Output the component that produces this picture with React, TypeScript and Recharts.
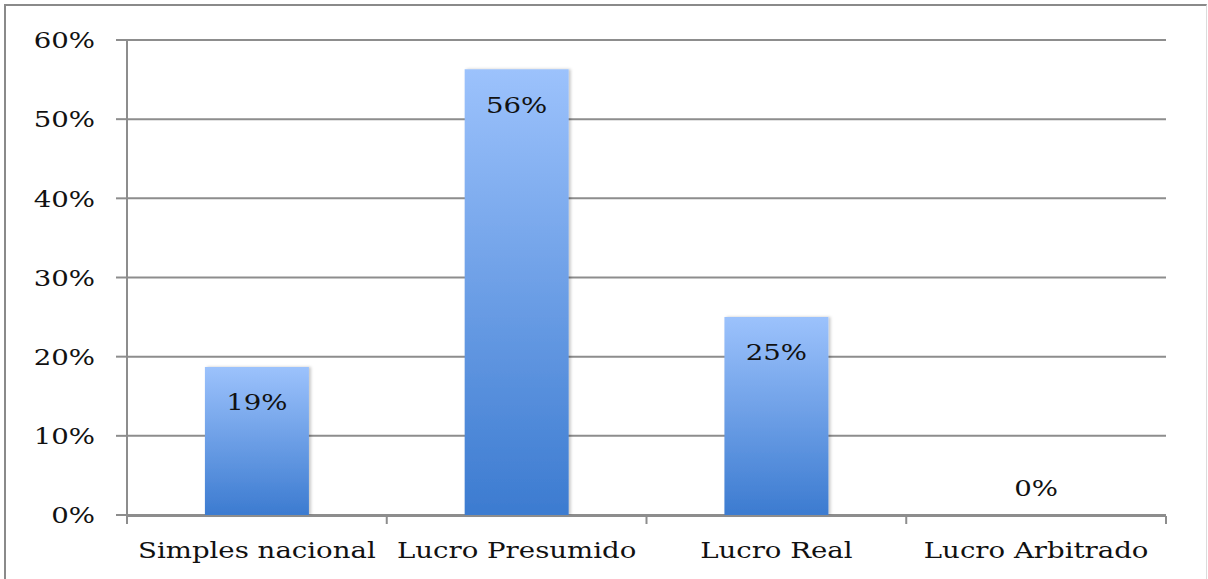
import React from "react";
import { ComposedChart, Bar, Line, XAxis, YAxis, CartesianGrid, LabelList } from "recharts";

const categories = ["Simples nacional", "Lucro Presumido", "Lucro Real", "Lucro Arbitrado"];
const shares = [18.7, 56.3, 25.0, 0];
const yTicks = [0, 10, 20, 30, 40, 50, 60];
const edgeTicks = [0, 1, 2, 3, 4];

const data = categories.map((name, i) => ({ name, value: shares[i] }));

const GRAY = "#8d8d8d";
const FONT = "'DejaVu Serif', serif";
const FS = 23;
const SX = 1.2;

const YTick = (props: any) => {
  const { x, y, payload } = props;
  return (
    <g transform={`translate(${x},${y})`}>
      <text transform={`scale(${SX},1)`} textAnchor="end" dy="0.36em" fontFamily={FONT} fontSize={FS} fill="#111">
        {`${payload.value}%`}
      </text>
    </g>
  );
};

const XTick = (props: any) => {
  const { x, y, payload } = props;
  return (
    <g transform={`translate(${x},${y})`}>
      <text transform={`scale(${SX},1)`} textAnchor="middle" dy="0.71em" fontFamily={FONT} fontSize={FS} fill="#111">
        {payload.value}
      </text>
    </g>
  );
};

const NoTick = () => <g />;

const PointLabel = (props: any) => {
  const { x, y, index } = props;
  const v = shares[index];
  const cy = v > 0 ? y + 35 : y - 27;
  return (
    <g transform={`translate(${x},${cy})`}>
      <text transform={`scale(${SX},1)`} textAnchor="middle" dy="0.36em" fontFamily={FONT} fontSize={FS} fill="#111">
        {`${Math.round(v)}%`}
      </text>
    </g>
  );
};

export default function App() {
  return (
    <div style={{ position: "absolute", left: 0, top: 0, width: 1208, height: 579, background: "#fff", overflow: "hidden" }}>
      <div
        style={{
          position: "absolute",
          left: 4,
          top: 4,
          width: 1200,
          height: 600,
          borderLeft: "2px solid #8a8a8a",
          borderTop: "2px solid #8a8a8a",
          borderRight: "1px solid #dcdcdc",
        }}
      />
      <div style={{ position: "absolute", left: 0, top: 0 }}>
        <ComposedChart width={1208} height={579} data={data} margin={{ top: 40, right: 42, left: 0, bottom: 0 }} barCategoryGap="30%">
          <defs>
            <linearGradient id="barGrad" x1="0" y1="0" x2="0" y2="1">
              <stop offset="0%" stopColor="#9cc2fc" />
              <stop offset="100%" stopColor="#3c7bd0" />
            </linearGradient>
            <filter id="barShadow" x="-10%" y="-10%" width="130%" height="120%">
              <feDropShadow dx="2" dy="0" stdDeviation="1.5" floodColor="#000" floodOpacity="0.22" />
            </filter>
          </defs>
          <CartesianGrid vertical={false} stroke={GRAY} strokeWidth={2} />
          <XAxis
            dataKey="name"
            type="category"
            height={1}
            axisLine={false}
            tickLine={false}
            tickSize={0}
            tickMargin={27}
            interval={0}
            tick={<XTick />}
          />
          <XAxis
            xAxisId="edges"
            type="number"
            dataKey="value"
            domain={[0, 4]}
            ticks={edgeTicks}
            allowDataOverflow
            height={63}
            tick={<NoTick />}
            tickSize={8}
            axisLine={{ stroke: GRAY, strokeWidth: 2 }}
            tickLine={{ stroke: GRAY, strokeWidth: 2 }}
          />
          <YAxis
            domain={[0, 60]}
            ticks={yTicks}
            width={127}
            tickSize={11}
            tickMargin={21}
            axisLine={{ stroke: GRAY, strokeWidth: 2 }}
            tickLine={{ stroke: GRAY, strokeWidth: 2 }}
            tick={<YTick />}
          />
          <Bar dataKey="value" fill="url(#barGrad)" filter="url(#barShadow)" isAnimationActive={false} />
          <Line dataKey="value" stroke="none" dot={false} activeDot={false} isAnimationActive={false}>
            <LabelList dataKey="name" content={<PointLabel />} />
          </Line>
        </ComposedChart>
      </div>
    </div>
  );
}
